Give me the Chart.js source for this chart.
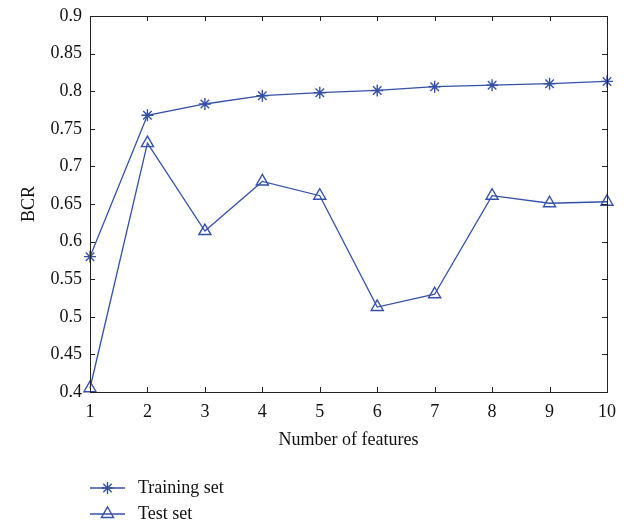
<!DOCTYPE html>
<html>
<head>
<meta charset="utf-8">
<script src="https://cdn.jsdelivr.net/npm/chart.js@4.4.0/dist/chart.umd.min.js"></script>
<style>
  html, body { margin: 0; padding: 0; background: #fff; }
  #wrap { width: 632px; height: 525px; }
</style>
</head>
<body>
<div id="wrap"><canvas id="chart"></canvas></div>
<script>
// Datos
const numFeatures = [1, 2, 3, 4, 5, 6, 7, 8, 9, 10];
const trainingSet = [0.580, 0.768, 0.783, 0.794, 0.798, 0.801, 0.806, 0.808, 0.810, 0.813];
const testSet = [0.405, 0.731, 0.614, 0.680, 0.661, 0.513, 0.530, 0.661, 0.651, 0.653];
const yTicks = [0.4, 0.45, 0.5, 0.55, 0.6, 0.65, 0.7, 0.75, 0.8, 0.85, 0.9];
const seriesNames = ['Training set', 'Test set'];

const blue = '#3550a8';
const axisColor = '#222';
const fontFamily = '"Liberation Serif", "Times New Roman", serif';

function toPoints(values) {
    return numFeatures.map((x, i) => ({ x: x, y: values[i] }));
}

// Marco y ticks hacia adentro en los cuatro lados
const boxTicks = {
    id: 'boxTicks',
    afterDraw(chart) {
        const { ctx, chartArea: a, scales } = chart;
        const len = 5;
        ctx.save();
        ctx.strokeStyle = axisColor;
        ctx.lineWidth = 1;
        ctx.strokeRect(a.left + 0.5, a.top + 0.5, a.right - a.left, a.bottom - a.top);
        ctx.beginPath();
        numFeatures.forEach(v => {
            const px = Math.round(scales.x.getPixelForValue(v)) + 0.5;
            ctx.moveTo(px, a.bottom); ctx.lineTo(px, a.bottom - len);
            ctx.moveTo(px, a.top); ctx.lineTo(px, a.top + len);
        });
        yTicks.forEach(v => {
            const py = Math.round(scales.y.getPixelForValue(v)) + 0.5;
            ctx.moveTo(a.left, py); ctx.lineTo(a.left + len, py);
            ctx.moveTo(a.right, py); ctx.lineTo(a.right - len, py);
        });
        ctx.stroke();
        ctx.restore();
    }
};

// Leyenda debajo del gráfico, línea con marcador
const lineLegend = {
    id: 'lineLegend',
    afterDraw(chart) {
        const { ctx } = chart;
        const x0 = 90, x1 = 125, textX = 138;
        const rows = [488, 514];
        ctx.save();
        chart.data.datasets.forEach((ds, i) => {
            const y = rows[i];
            ctx.strokeStyle = ds.borderColor;
            ctx.lineWidth = ds.borderWidth;
            ctx.beginPath();
            ctx.moveTo(x0, y); ctx.lineTo(x1, y);
            ctx.stroke();
            ctx.strokeStyle = ds.pointBorderColor;
            ctx.fillStyle = ds.pointBackgroundColor;
            ctx.lineWidth = ds.pointBorderWidth;
            Chart.helpers.drawPoint(ctx, {
                pointStyle: ds.pointStyle,
                radius: ds.pointRadius,
                borderWidth: ds.pointBorderWidth,
                rotation: 0
            }, (x0 + x1) / 2, y);
            ctx.fillStyle = '#111';
            ctx.font = '18px ' + fontFamily;
            ctx.textBaseline = 'middle';
            ctx.textAlign = 'left';
            ctx.fillText(seriesNames[i], textX, y);
        });
        ctx.restore();
    }
};

new Chart(document.getElementById('chart'), {
    type: 'line',
    data: {
        datasets: [
            {
                label: seriesNames[0],
                data: toPoints(trainingSet),
                borderColor: blue,
                borderWidth: 1.3,
                pointStyle: 'star',
                pointRadius: 6,
                pointBorderWidth: 1.4,
                pointBorderColor: blue,
                pointBackgroundColor: blue,
                fill: false,
                tension: 0
            },
            {
                label: seriesNames[1],
                data: toPoints(testSet),
                borderColor: blue,
                borderWidth: 1.3,
                pointStyle: 'triangle',
                pointRadius: 7,
                pointBorderWidth: 1.4,
                pointBorderColor: blue,
                pointBackgroundColor: 'rgba(0,0,0,0)',
                fill: false,
                tension: 0
            }
        ]
    },
    options: {
        responsive: true,
        maintainAspectRatio: false,
        animation: false,
        clip: false,
        layout: { padding: { top: 16, right: 25, left: 0, bottom: 0 } },
        plugins: {
            legend: { display: false },
            tooltip: { enabled: false }
        },
        scales: {
            x: {
                type: 'linear',
                min: 1,
                max: 10,
                border: { display: false },
                grid: { display: false, drawTicks: false },
                afterBuildTicks: axis => { axis.ticks = numFeatures.map(v => ({ value: v })); },
                afterFit: axis => { axis.height = 133; axis.paddingLeft = 0; axis.paddingRight = 0; },
                ticks: {
                    padding: 9,
                    color: '#111',
                    font: { family: fontFamily, size: 18 },
                    maxRotation: 0
                },
                title: {
                    display: true,
                    text: 'Number of features',
                    color: '#111',
                    font: { family: fontFamily, size: 18 },
                    padding: { top: 0, bottom: 74 }
                }
            },
            y: {
                min: 0.4,
                max: 0.9,
                border: { display: false },
                grid: { display: false, drawTicks: false },
                afterBuildTicks: axis => { axis.ticks = yTicks.map(v => ({ value: v })); },
                afterFit: axis => { axis.width = 90; axis.paddingTop = 0; axis.paddingBottom = 0; },
                ticks: {
                    padding: 8,
                    color: '#111',
                    font: { family: fontFamily, size: 18 },
                    callback: v => String(parseFloat(v.toFixed(2)))
                },
                title: {
                    display: true,
                    text: 'BCR',
                    color: '#111',
                    font: { family: fontFamily, size: 18 },
                    padding: { top: 18, bottom: 0 }
                }
            }
        }
    },
    plugins: [boxTicks, lineLegend]
});
</script>
</body>
</html>
